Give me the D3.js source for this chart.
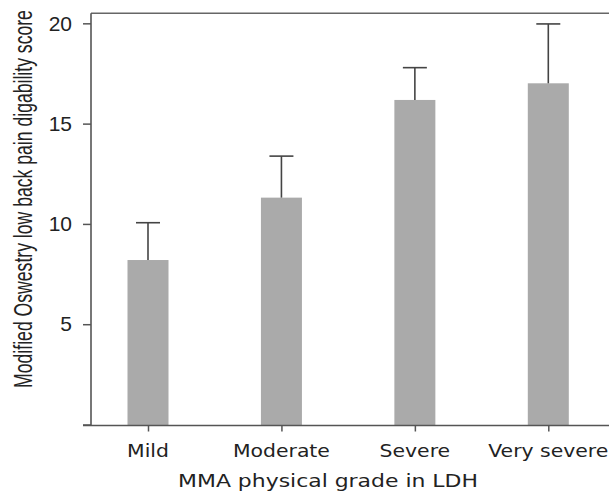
<!DOCTYPE html>
<html>
<head>
<meta charset="utf-8">
<script src="https://cdn.jsdelivr.net/npm/d3@7"></script>
<style>
  html, body { margin: 0; padding: 0; background: #fff; }
  svg { display: block; }
</style>
</head>
<body>
<script>
const categories = ["Mild", "Moderate", "Severe", "Very severe"];
const means = [8.2, 11.31, 16.18, 17.01];
const errors = [1.86, 2.07, 1.61, 2.96];
const yTicks = [0, 5, 10, 15, 20];
const xTitle = "MMA physical grade in LDH";
const yTitle = "Modified Oswestry low back pain digability score";

const W = 609, H = 492;
const svg = d3.select("body").append("svg").attr("width", W).attr("height", H);

const x = d3.scalePoint().domain(categories).range([148, 548.3]);
const y = d3.scaleLinear().domain([0, 20.5]).range([424.5, 13.3]);
const left = 91;
const barW = 41, capW = 24;
const axisColor = "#555";

// top frame line
svg.append("line")
  .attr("x1", left).attr("x2", W + 5)
  .attr("y1", y(20.5)).attr("y2", y(20.5))
  .attr("stroke", "#666").attr("stroke-width", 1.6);

// bars
svg.append("g").selectAll("rect").data(categories).join("rect")
  .attr("x", d => x(d) - barW / 2)
  .attr("width", barW)
  .attr("y", (d, i) => y(means[i]))
  .attr("height", (d, i) => y(0) - y(means[i]) + 1)
  .attr("fill", "#aaaaaa");

// error bars
const eg = svg.append("g").attr("stroke", "#444").attr("stroke-width", 1.6);
eg.selectAll("line.v").data(categories).join("line").attr("class", "v")
  .attr("x1", d => x(d)).attr("x2", d => x(d))
  .attr("y1", (d, i) => y(means[i]))
  .attr("y2", (d, i) => y(means[i] + errors[i]));
eg.selectAll("line.c").data(categories).join("line").attr("class", "c")
  .attr("x1", d => x(d) - capW / 2).attr("x2", d => x(d) + capW / 2)
  .attr("y1", (d, i) => y(means[i] + errors[i]))
  .attr("y2", (d, i) => y(means[i] + errors[i]));

// y axis
const yAxis = svg.append("g").attr("transform", `translate(${left},0)`)
  .call(d3.axisLeft(y).tickValues(yTicks).tickSize(8).tickPadding(11)
    .tickFormat(d => d === 0 ? "" : d));
yAxis.select(".domain").remove();
yAxis.append("line").attr("x1", 0).attr("x2", 0)
  .attr("y1", y(20.5)).attr("y2", y(0) + 1)
  .attr("stroke", axisColor).attr("stroke-width", 1.6);
yAxis.selectAll(".tick line").attr("stroke", axisColor).attr("stroke-width", 1.5);
yAxis.selectAll(".tick text")
  .attr("fill", "#222")
  .style("font-family", "'Liberation Sans', Arial, sans-serif")
  .style("font-size", "21px");

// x axis
const xAxis = svg.append("g").attr("transform", `translate(0,${y(0) + 1})`)
  .call(d3.axisBottom(x).tickSize(6).tickPadding(0).tickFormat(""));
xAxis.select(".domain").remove();
xAxis.append("line").attr("x1", 83).attr("x2", W + 5)
  .attr("stroke", axisColor).attr("stroke-width", 1.6);
xAxis.selectAll(".tick line").attr("stroke", axisColor).attr("stroke-width", 1.5);

// x tick labels (wide font look)
svg.append("g").selectAll("text").data(categories).join("text")
  .attr("transform", d => `translate(${x(d)},457) scale(1.2,1)`)
  .attr("text-anchor", "middle")
  .attr("fill", "#222")
  .style("font-family", "'DejaVu Sans', sans-serif")
  .style("font-size", "17px")
  .text(d => d);

// x title
svg.append("text")
  .attr("transform", "translate(328,487) scale(1.29,1)")
  .attr("text-anchor", "middle")
  .attr("fill", "#222")
  .style("font-family", "'DejaVu Sans', sans-serif")
  .style("font-size", "17px")
  .text(xTitle);

// y title (condensed)
svg.append("text")
  .attr("transform", "translate(32,199) rotate(-90) scale(0.705,1)")
  .attr("text-anchor", "middle")
  .attr("fill", "#222")
  .style("font-family", "'Liberation Sans', Arial, sans-serif")
  .style("font-size", "25px")
  .text(yTitle);
</script>
</body>
</html>
